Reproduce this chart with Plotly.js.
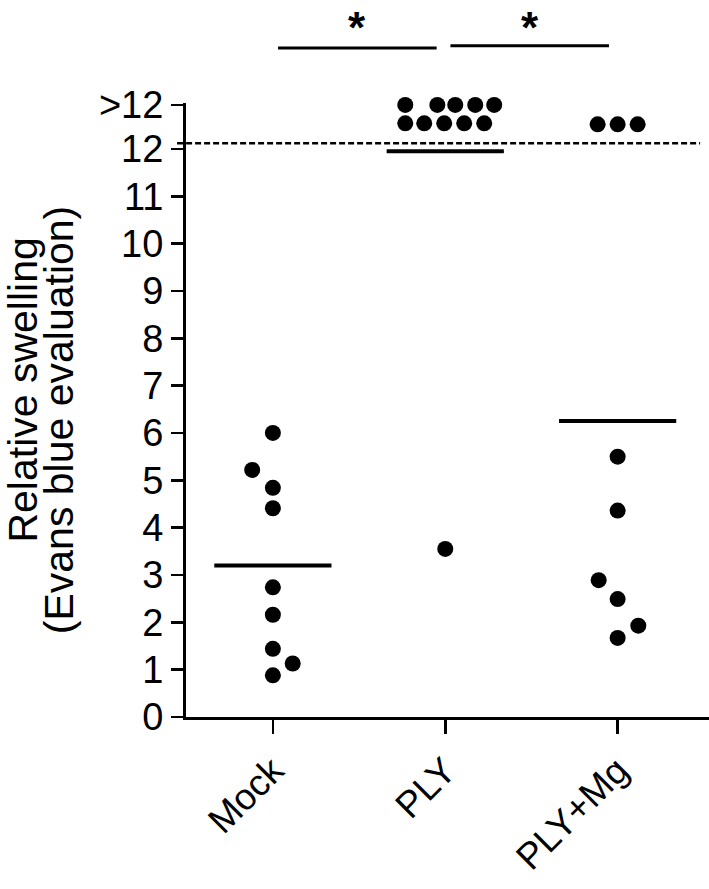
<!DOCTYPE html>
<html>
<head>
<meta charset="utf-8">
<script src="https://cdn.plot.ly/plotly-3.0.1.min.js"></script>
<style>
  html, body { margin: 0; padding: 0; background: #fff; }
  #chart { width: 709px; height: 889px; }
</style>
</head>
<body>
<div id="chart"></div>
<script>
// groups on the x axis
const groups = ['Mock', 'PLY', 'PLY+Mg'];

// measured values (">12" samples are drawn in the band above the cut-off)
const mockValues = [6.0, 5.22, 4.84, 4.41, 2.74, 2.16, 1.44, 1.13, 0.88];
const mockJitter = [0, -0.12, 0, 0, 0, 0, 0, 0.115, 0];

const plyValues = [3.55, 12.93, 12.93, 12.93, 12.93, 12.93, 12.54, 12.54, 12.54, 12.54, 12.54];
const plyJitter = [0, -0.232, -0.046, 0.058, 0.174, 0.284, -0.232, -0.122, -0.006, 0.11, 0.226];

const plyMgValues = [5.5, 4.36, 2.89, 2.49, 1.93, 1.67, 12.52, 12.52, 12.52];
const plyMgJitter = [0, 0, -0.11, 0, 0.12, 0, -0.116, 0, 0.116];

// group means (horizontal bars)
const groupMeans = [3.2, 11.95, 6.25];

// cut-off line and tick labels
const cutoff = 12.12;
const yTickVals = [0, 1, 2, 3, 4, 5, 6, 7, 8, 9, 10, 11, 12, 12.93];
const yTickText = ['0', '1', '2', '3', '4', '5', '6', '7', '8', '9', '10', '11', '12', '>12'];

// y axis title, one entry per line
const yTitleLines = ['Relative swelling', '(Evans blue evaluation)'];

// significance brackets
const sigPairs = [[0, 1], [1, 2]];
const sigLabels = ['*', '*'];

const FONT = 'Liberation Sans, Arial, sans-serif';
const NARROW = 'Liberation Sans Narrow, Arial Narrow, Liberation Sans, Arial, sans-serif';

function dots(values, jitter, idx) {
    return {
        x: values.map((v, i) => idx + jitter[i]),
        y: values,
        type: 'scatter',
        mode: 'markers',
        cliponaxis: false,
        marker: { color: '#000', size: 16 },
        hoverinfo: 'y',
        showlegend: false
    };
}

const data = [
    dots(mockValues, mockJitter, 0),
    dots(plyValues, plyJitter, 1),
    dots(plyMgValues, plyMgJitter, 2)
];

// mean bars
groupMeans.forEach(function (m, i) {
    data.push({
        x: [i - 0.34, i + 0.34],
        y: [m, m],
        type: 'scatter',
        mode: 'lines',
        cliponaxis: false,
        line: { color: '#000', width: 4 },
        hoverinfo: 'skip',
        showlegend: false
    });
});

const shapes = [{
    type: 'line',
    xref: 'paper', yref: 'y',
    x0: -0.017, x1: 0.983,
    y0: cutoff, y1: cutoff,
    line: { color: '#000', width: 2.5, dash: '6px,3px' }
}];

const annotations = [];

// two title lines, placed separately so the line gap stays tight
const titleX = [-0.312, -0.244];
const titleY = [0.533, 0.484];
yTitleLines.forEach(function (t, i) {
    annotations.push({
        text: t,
        xref: 'paper', yref: 'paper',
        x: titleX[i], y: titleY[i],
        xanchor: 'center', yanchor: 'middle',
        textangle: -90,
        showarrow: false,
        font: { family: FONT, size: 41, color: '#000' }
    });
});

sigPairs.forEach(function (p, i) {
    const yLine = i === 0 ? 1.0896 : 1.0933;
    shapes.push({
        type: 'line',
        xref: 'x', yref: 'paper',
        x0: p[0] + 0.03, x1: p[1] - 0.05,
        y0: yLine, y1: yLine,
        line: { color: '#000', width: 3 }
    });
    annotations.push({
        text: '<b>' + sigLabels[i] + '</b>',
        xref: 'x', yref: 'paper',
        x: (p[0] + p[1]) / 2 - 0.01, y: 1.165,
        xanchor: 'center', yanchor: 'top',
        borderpad: 0,
        showarrow: false,
        font: { family: FONT, size: 44, color: '#000' }
    });
});

const layout = {
    width: 709,
    height: 889,
    margin: { l: 186, r: 0, t: 103, b: 172 },
    paper_bgcolor: '#fff',
    plot_bgcolor: '#fff',
    font: { family: FONT, color: '#000' },
    xaxis: {
        range: [-0.504, 2.53],
        tickvals: [0, 1, 2],
        ticktext: groups,
        tickangle: -45,
        ticks: 'outside',
        ticklen: 14,
        tickwidth: 2.5,
        tickcolor: '#000',
        showline: true,
        linewidth: 3,
        linecolor: '#000',
        showgrid: false,
        zeroline: false,
        tickfont: { family: FONT, size: 37, color: '#000' }
    },
    yaxis: {
        range: [0, 12.97],
        tickvals: yTickVals,
        ticktext: yTickText,
        ticks: 'outside',
        ticklen: 12,
        tickwidth: 2.5,
        tickcolor: '#000',
        showline: true,
        linewidth: 3,
        linecolor: '#000',
        showgrid: false,
        zeroline: false,
        tickfont: { family: NARROW, size: 38, color: '#000' }
    },
    shapes: shapes,
    annotations: annotations
};

Plotly.newPlot('chart', data, layout, { displayModeBar: false, staticPlot: true });
</script>
</body>
</html>
